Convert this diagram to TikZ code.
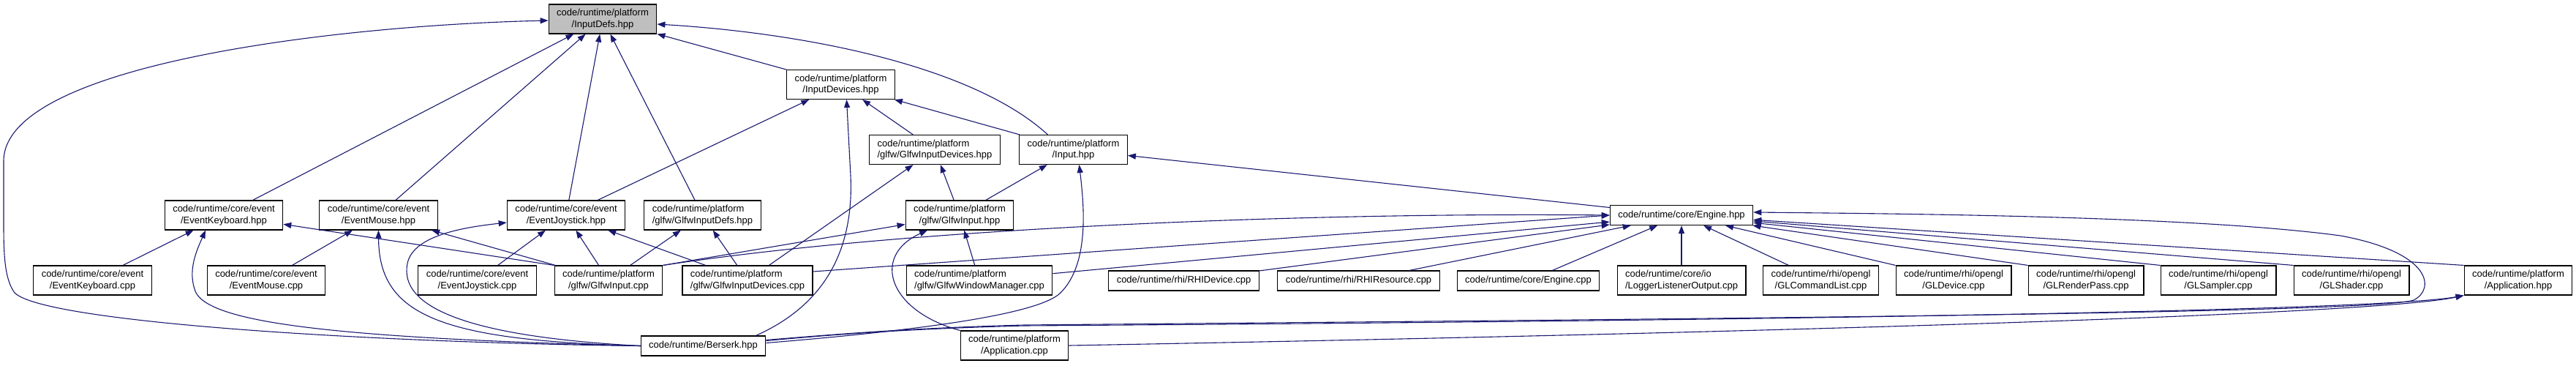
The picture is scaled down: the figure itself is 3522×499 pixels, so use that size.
\documentclass[tikz,border=0pt]{standalone}
\usepackage{fontspec}
\setmainfont{Liberation Sans}
\usetikzlibrary{arrows.meta}
\definecolor{edgeblue}{HTML}{191970}
\definecolor{boxgrey}{HTML}{BFBFBF}
\begin{document}
\begin{tikzpicture}[x=1pt,y=-1pt,
  filebox/.style={draw=black,line width=1.1pt,fill=white,inner xsep=11pt,inner ysep=0pt,
    minimum height=40pt,align=center,font=\fontsize{13}{15.3}\selectfont},
  fileboxone/.style={filebox,minimum height=27pt},
  fileboxleft/.style={filebox,align=left},
  incl/.style={draw=edgeblue,line width=1.1pt,-{Triangle[length=11pt,width=8pt]}}]
\useasboundingbox (0,0) rectangle (3522,499);

\node[filebox,fill=boxgrey] (inputdefs) at (824,26) {code/runtime/platform\\/InputDefs.hpp};
\node[filebox] (inputdevh) at (1149.5,115.5) {code/runtime/platform\\/InputDevices.hpp};
\node[fileboxleft] (glfwinputdevh) at (1278,204.5) {code/runtime/platform\\/glfw/GlfwInputDevices.hpp};
\node[filebox] (inputh) at (1467.5,204.5) {code/runtime/platform\\/Input.hpp};

\node[filebox] (eventkbh) at (306,294) {code/runtime/core/event\\/EventKeyboard.hpp};
\node[filebox] (eventmouseh) at (517.5,294) {code/runtime/core/event\\/EventMouse.hpp};
\node[filebox] (eventjoyh) at (774,294) {code/runtime/core/event\\/EventJoystick.hpp};
\node[fileboxleft] (glfwinputdefsh) at (960.5,294) {code/runtime/platform\\/glfw/GlfwInputDefs.hpp};
\node[filebox] (glfwinputh) at (1312,294) {code/runtime/platform\\/glfw/GlfwInput.hpp};
\node[fileboxone] (engineh) at (2299,294) {code/runtime/core/Engine.hpp};

\node[filebox] (eventkbcpp) at (126.5,383) {code/runtime/core/event\\/EventKeyboard.cpp};
\node[filebox] (eventmousecpp) at (364,383) {code/runtime/core/event\\/EventMouse.cpp};
\node[filebox] (eventjoycpp) at (652.5,383) {code/runtime/core/event\\/EventJoystick.cpp};
\node[filebox] (glfwinputcpp) at (832,383) {code/runtime/platform\\/glfw/GlfwInput.cpp};
\node[fileboxleft] (glfwinputdevcpp) at (1022,383) {code/runtime/platform\\/glfw/GlfwInputDevices.cpp};
\node[fileboxleft] (glfwwinmgrcpp) at (1339,383) {code/runtime/platform\\/glfw/GlfwWindowManager.cpp};
\node[fileboxone] (rhidevicecpp) at (1618.5,383.5) {code/runtime/rhi/RHIDevice.cpp};
\node[fileboxone] (rhiresourcecpp) at (1857.5,383.5) {code/runtime/rhi/RHIResource.cpp};
\node[fileboxone] (enginecpp) at (2089.5,383.5) {code/runtime/core/Engine.cpp};
\node[fileboxleft] (loggercpp) at (2299,383) {code/runtime/core/io\\/LoggerListenerOutput.cpp};
\node[filebox] (glcmdlistcpp) at (2489.5,383) {code/runtime/rhi/opengl\\/GLCommandList.cpp};
\node[filebox] (gldevicecpp) at (2671,383) {code/runtime/rhi/opengl\\/GLDevice.cpp};
\node[filebox] (glrenderpasscpp) at (2852,383) {code/runtime/rhi/opengl\\/GLRenderPass.cpp};
\node[filebox] (glsamplercpp) at (3033,383) {code/runtime/rhi/opengl\\/GLSampler.cpp};
\node[filebox] (glshadercpp) at (3215,383) {code/runtime/rhi/opengl\\/GLShader.cpp};
\node[filebox] (applicationh) at (3443,383) {code/runtime/platform\\/Application.hpp};

\node[fileboxone] (berserkh) at (961.5,472.5) {code/runtime/Berserk.hpp};
\node[filebox] (applicationcpp) at (1387,472) {code/runtime/platform\\/Application.cpp};

\draw[incl] (eventkbh) -- (inputdefs);
\draw[incl] (eventmouseh) -- (inputdefs);
\draw[incl] (eventjoyh) -- (inputdefs);
\draw[incl] (glfwinputdefsh) -- (inputdefs);
\draw[incl] (inputdevh) -- (inputdefs);
\draw[incl] ([xshift=-35pt]inputh.north) .. controls (1330,90) and (1100,45) .. ([yshift=-7pt]inputdefs.east);
\draw[incl] (berserkh.west) .. controls (500,468) and (60,440) .. (20,400) .. controls (5,380) and (5,340) .. (5,300) -- (5,220) .. controls (5,90) and (450,35) .. ([yshift=-2pt]inputdefs.west);

\draw[incl] (eventjoyh) -- (inputdevh);
\draw[incl] (glfwinputdevh) -- (inputdevh);
\draw[incl] (inputh) -- (inputdevh);
\draw[incl] ([xshift=-14pt]berserkh.north east) .. controls (1120,420) and (1168,350) .. (1163,240) -- ([xshift=8pt]inputdevh.south);

\draw[incl] (glfwinputdevcpp) -- (glfwinputdevh);
\draw[incl] (glfwinputh) -- (glfwinputdevh);
\draw[incl] (glfwinputh) -- (inputh);
\draw[incl] (engineh) -- (inputh);
\draw[incl] ([yshift=4pt]berserkh.east) .. controls (1250,452) and (1420,430) .. (1450,400) .. controls (1490,360) and (1482,280) .. ([xshift=8pt]inputh.south);

\draw[incl] (eventkbcpp) -- (eventkbh);
\draw[incl] (glfwinputcpp.north west) -- (eventkbh);
\draw[incl] (berserkh.west) .. controls (450,462) and (290,440) .. (268,400) .. controls (255,370) and (270,340) .. ([xshift=-25pt]eventkbh.south);
\draw[incl] (eventmousecpp) -- (eventmouseh);
\draw[incl] (glfwinputcpp) -- (eventmouseh);
\draw[incl] (berserkh.west) .. controls (600,465) and (518,430) .. (eventmouseh.south);
\draw[incl] (eventjoycpp) -- (eventjoyh);
\draw[incl] (glfwinputcpp) -- (eventjoyh);
\draw[incl] (glfwinputdevcpp) -- (eventjoyh);
\draw[incl] (berserkh.west) .. controls (640,460) and (545,420) .. (557,360) .. controls (565,320) and (640,310) .. ([yshift=-10pt]eventjoyh.west);
\draw[incl] (glfwinputcpp) -- (glfwinputdefsh);
\draw[incl] (glfwinputdevcpp) -- (glfwinputdefsh);

\draw[incl] (glfwinputcpp.north east) -- (glfwinputh);
\draw[incl] (glfwwinmgrcpp) -- (glfwinputh);
\draw[incl] (applicationcpp.north west) .. controls (1215,425) and (1190,350) .. ([xshift=-44pt]glfwinputh.south);

\draw[incl] (glfwinputcpp.north east) .. controls (1250,310) and (1800,290) .. (engineh.west);
\draw[incl] ([yshift=12pt]glfwinputdevcpp.east) -- (engineh.west);
\draw[incl] (glfwwinmgrcpp) -- (engineh);
\draw[incl] (rhidevicecpp) -- (engineh);
\draw[incl] (rhiresourcecpp) -- (engineh);
\draw[incl] (enginecpp) -- (engineh);
\draw[incl] (loggercpp) -- (engineh);
\draw[incl] (glcmdlistcpp) -- (engineh);
\draw[incl] (gldevicecpp.north west) -- (engineh);
\draw[incl] (glrenderpasscpp.north west) -- (engineh);
\draw[incl] (glsamplercpp.north west) -- (engineh);
\draw[incl] (glshadercpp.north west) -- (engineh);
\draw[incl] (applicationh.north west) -- (engineh);
\draw[incl] ([yshift=8pt]berserkh.east) .. controls (1150,456) and (1250,448) .. (1400,444) .. controls (2300,436) and (3250,428) .. (3300,410) .. controls (3330,395) and (3325,345) .. (3200,322) .. controls (3000,295) and (2600,292) .. ([yshift=4pt]engineh.east);

\draw[incl] ([yshift=7pt]berserkh.east) .. controls (1150,456) and (1250,449) .. (1400,445) .. controls (2300,439) and (3250,426) .. (applicationh.south west);
\draw[incl] (applicationcpp.east) .. controls (2400,455) and (3250,430) .. (applicationh.south west);
\end{tikzpicture}
\end{document}
